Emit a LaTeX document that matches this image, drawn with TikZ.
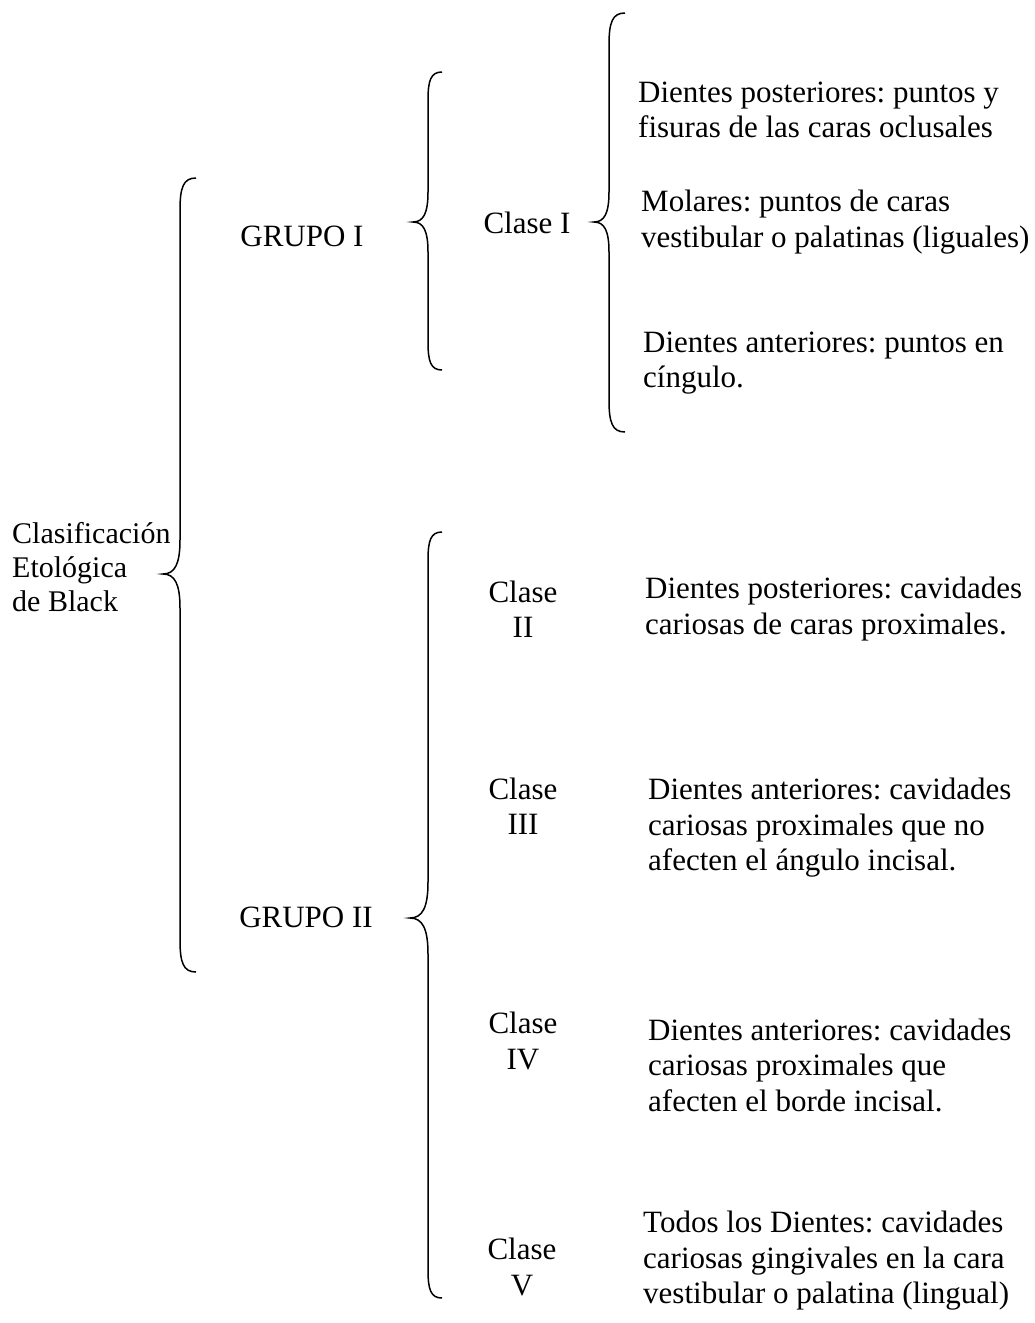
\documentclass[tikz,border=0pt]{standalone}
\usepackage{fontspec}
\setmainfont{Liberation Serif}
\frenchspacing
\newcommand\mybrace[6]{%
 \draw[bracestyle] ({#1+#6},#2) .. controls ({#1+0.2*#6},#2) and (#1,{#2+0.6*#6}) .. (#1,{#2+2*#6})
   -- (#1,{#4-2*#5}) .. controls (#1,{#4-0.6*#5}) and ({#1-0.3*#5},#4) .. ({#1-#5},#4)
   .. controls ({#1-0.3*#5},#4) and (#1,{#4+0.6*#5}) .. (#1,{#4+2*#5})
   -- (#1,{#3-2*#6}) .. controls (#1,{#3-0.6*#6}) and ({#1+0.2*#6},#3) .. ({#1+#6},#3);}
\tikzset{
  bracestyle/.style={line width=1.5pt, black},
  lefttext/.style={anchor=west, align=left, inner sep=0pt, font=\fontsize{31}{35.5}\selectfont},
  midtext/.style={anchor=center, align=center, inner sep=0pt, font=\fontsize{31}{35.5}\selectfont},
  roottext/.style={anchor=west, align=left, inner sep=0pt, font=\fontsize{30}{34}\selectfont},
}
\begin{document}
\begin{tikzpicture}[x=1pt,y=-1pt]
\useasboundingbox (0,0) rectangle (1034,1323);
% braces
\mybrace{180}{178}{972}{574}{17}{16}
\mybrace{428}{72}{370}{222}{15}{14}
\mybrace{609}{13}{432}{222}{15}{16}
\mybrace{428}{532}{1298}{918}{18}{14}
% texts
\node[roottext] (root) at (12,567) {Clasificación\\Etológica\\de Black};
\node[midtext] (g1) at (302,236) {GRUPO I};
\node[midtext] (c1) at (527,223) {Clase I};
\node[lefttext] (d1a) at (638,110) {Dientes posteriores: puntos y\\fisuras de las caras oclusales};
\node[lefttext] (d1b) at (641,222) {Molares: puntos de caras\\vestibular o palatinas (liguales)};
\node[lefttext] (d1c) at (643,363) {Dientes anteriores: puntos en\\cíngulo.};
\node[midtext] (c2) at (523,609) {Clase\\II};
\node[lefttext] (d2) at (645,609) {Dientes posteriores: cavidades\\cariosas de caras proximales.};
\node[midtext] (c3) at (523,806) {Clase\\III};
\node[lefttext] (d3) at (648,828) {Dientes anteriores: cavidades\\cariosas proximales que no\\afecten el ángulo incisal.};
\node[midtext] (g2) at (306,917) {GRUPO II};
\node[midtext] (c4) at (523,1041) {Clase\\IV};
\node[lefttext] (d4) at (648,1065) {Dientes anteriores: cavidades\\cariosas proximales que\\afecten el borde incisal.};
\node[midtext] (c5) at (522,1267) {Clase\\V};
\node[lefttext] (d5) at (643,1261) {Todos los Dientes: cavidades\\cariosas gingivales en la cara\\vestibular o palatina (lingual)};
\end{tikzpicture}
\end{document}
